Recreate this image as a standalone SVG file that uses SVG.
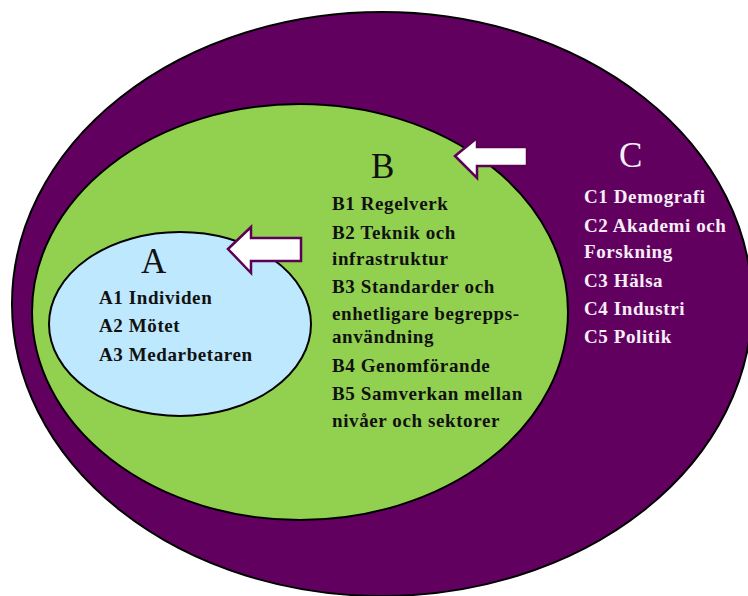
<svg xmlns="http://www.w3.org/2000/svg" width="748" height="596" viewBox="0 0 748 596">
<style>
.ring{stroke:#000;stroke-width:2}
.big{font-family:"Liberation Serif",serif;font-size:35px}
.item{font-family:"Liberation Serif",serif;font-size:19px;font-weight:bold;letter-spacing:0.6px}
.dark{fill:#111}
.light{fill:#f6eef6}
.arrow{fill:#fff;stroke:#5c0056;stroke-width:2.5;stroke-linejoin:miter}
</style>
<rect width="748" height="596" fill="#fff"/>
<g id="C">
<ellipse class="ring" cx="382" cy="304" rx="370" ry="292" fill="#620060"/>
<text class="big light" x="619" y="167">C</text>
<text class="item light" x="584" y="203">C1 Demografi</text>
<text class="item light" x="584" y="232">C2 Akademi och</text>
<text class="item light" x="584" y="258">Forskning</text>
<text class="item light" x="584" y="287">C3 Hälsa</text>
<text class="item light" x="584" y="315">C4 Industri</text>
<text class="item light" x="584" y="343">C5 Politik</text>
</g>
<g id="B">
<ellipse class="ring" cx="300" cy="312" rx="268" ry="208" fill="#92d050"/>
<text class="big dark" x="371" y="178">B</text>
<text class="item dark" x="332" y="210">B1 Regelverk</text>
<text class="item dark" x="332" y="239">B2 Teknik och</text>
<text class="item dark" x="332" y="265">infrastruktur</text>
<text class="item dark" x="332" y="293">B3 Standarder och</text>
<text class="item dark" x="332" y="320">enhetligare begrepps-</text>
<text class="item dark" x="332" y="343">användning</text>
<text class="item dark" x="332" y="372">B4 Genomförande</text>
<text class="item dark" x="332" y="400">B5 Samverkan mellan</text>
<text class="item dark" x="332" y="427">nivåer och sektorer</text>
</g>
<g id="A">
<ellipse class="ring" cx="180" cy="324" rx="131" ry="92" fill="#bde8fd"/>
<text class="big dark" x="141" y="273">A</text>
<text class="item dark" x="99" y="304">A1 Individen</text>
<text class="item dark" x="99" y="332">A2 Mötet</text>
<text class="item dark" x="99" y="361">A3 Medarbetaren</text>
</g>
<g id="connectors">
<polygon class="arrow" points="228,249 251,227 251,238 301,238 301,261 251,261 251,273"/>
<polygon class="arrow" points="455,156 477,138 477,147 527,147 527,166 477,166 477,178"/>
</g>
</svg>
